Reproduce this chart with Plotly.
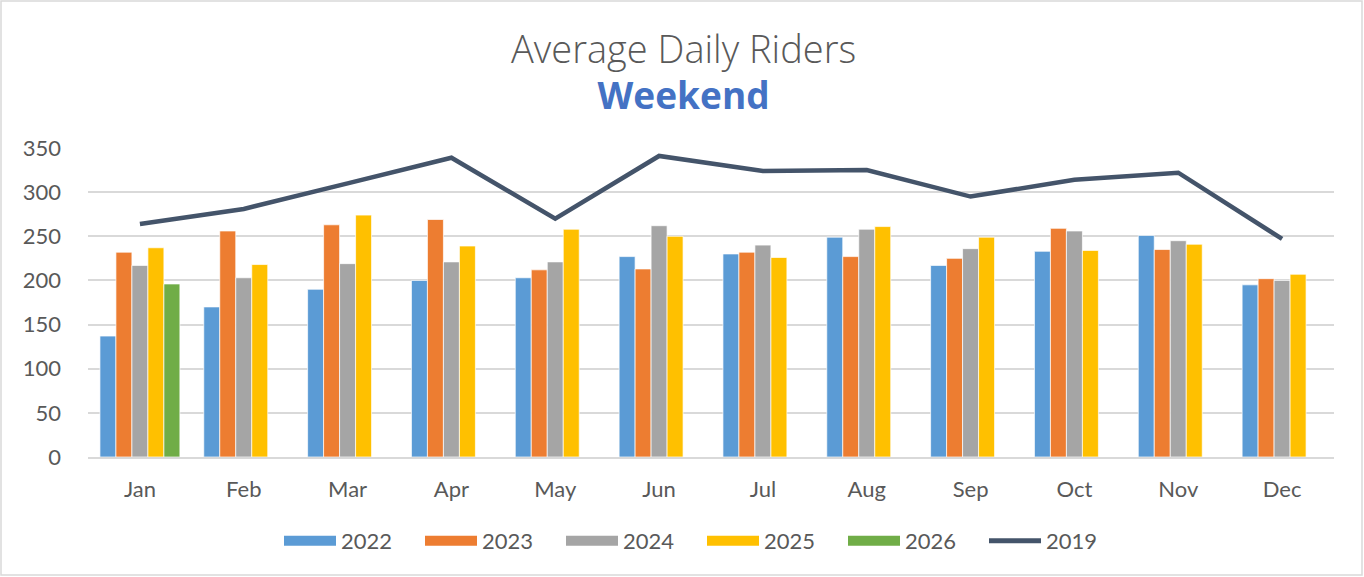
import plotly.graph_objects as go

months = ["Jan", "Feb", "Mar", "Apr", "May", "Jun", "Jul", "Aug", "Sep", "Oct", "Nov", "Dec"]
y2022 = [137, 170, 190, 200, 203, 227, 230, 249, 217, 233, 251, 195]
y2023 = [232, 256, 263, 269, 212, 213, 232, 227, 225, 259, 235, 202]
y2024 = [217, 203, 219, 221, 221, 262, 240, 258, 236, 256, 245, 200]
y2025 = [237, 218, 274, 239, 258, 250, 226, 261, 249, 234, 241, 207]
y2026 = [196, None, None, None, None, None, None, None, None, None, None, None]
y2019 = [264, 281, 310, 339, 270, 341, 324, 325, 295, 314, 322, 247]

title_text = "Average Daily Riders"
subtitle_text = "Weekend"

W, H = 1364, 577
ML, MR, MT, MB = 88, 30, 148, 120
pw = W - ML - MR
ph = H - MT - MB
text_color = "#595959"
font_family = "Lato, 'Open Sans', sans-serif"
title_family = "'Open Sans', Lato, sans-serif"

def py(px):
    """pixel row (from top of figure) -> paper y"""
    return 1 + (MT - px) / ph

fig = go.Figure()
bar_series = [
    ("2022", y2022, "#5B9BD5"),
    ("2023", y2023, "#ED7D31"),
    ("2024", y2024, "#A5A5A5"),
    ("2025", y2025, "#FFC000"),
    ("2026", y2026, "#70AD47"),
]
for name, vals, col in bar_series:
    fig.add_trace(go.Bar(x=months, y=vals, name=name, showlegend=False, legendgroup=name,
                         marker=dict(color=col, line=dict(color="white", width=0.7))))

fig.add_trace(go.Scatter(x=months, y=y2019, name="2019", mode="lines", showlegend=False,
                         legendgroup="2019", line=dict(color="#44546A", width=4.5)))

# legend entries (wide swatches like the original)
for name, vals, col in bar_series:
    fig.add_trace(go.Scatter(x=[None], y=[None], name=name, mode="lines", legendgroup=name,
                             line=dict(color=col, width=11)))
fig.add_trace(go.Scatter(x=[None], y=[None], name="2019", mode="lines", legendgroup="2019",
                         line=dict(color="#44546A", width=5)))

title_html = (
    f"<span style='font-size:38px;font-weight:300'>{title_text}</span><br>"
    f"<span style='color:#4472C4;font-size:37px'><b>{subtitle_text}</b></span>"
)

fig.update_layout(
    width=W, height=H,
    margin=dict(l=ML, r=MR, t=MT, b=MB, autoexpand=False),
    paper_bgcolor="white", plot_bgcolor="white",
    barmode="group", bargap=0.23, bargroupgap=0,
    font=dict(family=font_family, color=text_color, size=22),
    xaxis=dict(showgrid=False, showline=True, linecolor="#D9D9D9", linewidth=1.5,
               ticks="", ticklabelstandoff=12, tickfont=dict(size=22, color=text_color)),
    yaxis=dict(range=[0, 350], dtick=50, showgrid=True, gridcolor="#D9D9D9", gridwidth=1.5,
               zeroline=False, showline=False, ticklabelstandoff=26,
               tickfont=dict(size=22, color=text_color)),
    legend=dict(orientation="h", x=(702 - ML) / pw, xanchor="center", y=py(541), yanchor="middle",
                font=dict(size=22, color=text_color), itemwidth=52, entrywidth=74,
                traceorder="normal", tracegroupgap=0),
    annotations=[
        dict(text=title_html, xref="paper", yref="paper", x=(683 - ML) / pw, y=py(71),
             xanchor="center", yanchor="middle", showarrow=False,
             font=dict(family=title_family, size=35.5, color=text_color)),
    ],
    shapes=[dict(type="rect", xref="paper", yref="paper",
                 x0=-(ML - 1) / pw, x1=(W - ML - 2) / pw,
                 y0=-(MB - 2) / ph, y1=1 + (MT - 1) / ph,
                 line=dict(color="#D9D9D9", width=1.5))],
)

fig.write_html("out.html", config={"displayModeBar": False},
               post_script="document.body.style.margin='0px';")
